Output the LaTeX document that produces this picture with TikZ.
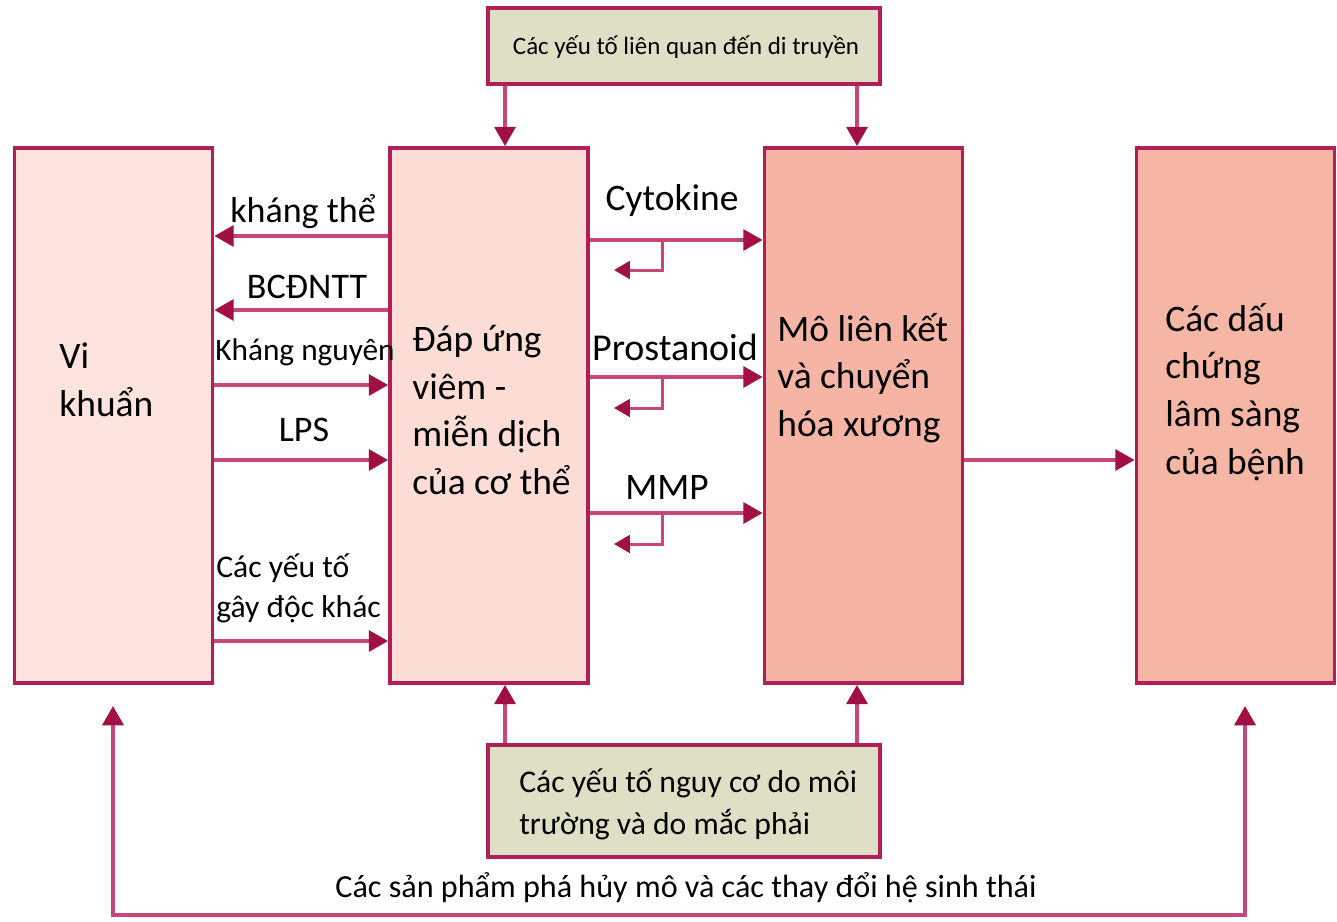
\documentclass[tikz,border=0pt]{standalone}
\usepackage{fontspec}
\setmainfont{Carlito}
\usetikzlibrary{arrows.meta}
\definecolor{bordc}{RGB}{176,32,88}
\definecolor{linec}{RGB}{200,70,120}
\definecolor{headc}{RGB}{160,16,66}
\definecolor{fvk}{RGB}{252,227,221}
\definecolor{fdap}{RGB}{252,221,214}
\definecolor{fmo}{RGB}{245,180,164}
\definecolor{fdau}{RGB}{246,182,165}
\definecolor{fkhaki}{RGB}{222,223,197}
\tikzset{
  bigbox/.style={draw=bordc, line width=2.2pt, minimum width=3.96cm, minimum height=10.7cm, inner sep=0pt},
  factbox/.style={draw=bordc, line width=2.6pt, fill=fkhaki, minimum width=7.84cm, inner sep=0pt},
  conn/.style={draw=linec, line width=1.9pt, -{Triangle[length=11pt,width=12pt,fill=headc,color=headc]}},
  fb/.style={draw=linec, line width=1.7pt, -{Triangle[length=9pt,width=10pt,fill=headc,color=headc]}},
  boxtxt/.style={anchor=west, align=left, inner sep=0pt, font=\fontsize{21.3pt}{27.2pt}\selectfont},
  lbl/.style={inner sep=0pt, font=\fontsize{20.5pt}{24pt}\selectfont},
}
\begin{document}
\begin{tikzpicture}[x=0.02cm,y=-0.02cm]
\useasboundingbox (0,0) rectangle (1337,921);
% main boxes
\node[bigbox, fill=fvk]  (vk)  at (113.5,415.5) {};
\node[bigbox, fill=fdap] (dap) at (489,415.5) {};
\node[bigbox, fill=fmo]  (mo)  at (863.5,415.5) {};
\node[bigbox, fill=fdau] (dau) at (1235.5,415.5) {};
% factor boxes
\node[factbox, minimum height=1.52cm] (gen) at (684,46) {};
\node[factbox, minimum height=2.24cm] (env) at (684,801) {};
% box texts
\node[boxtxt] (tvk) at (59,380) {Vi\\khuẩn};
\node[boxtxt] (tdap) at (412,410) {Đáp ứng\\viêm -\\miễn dịch\\của cơ thể};
\node[boxtxt] (tmo) at (777,378) {Mô liên kết\\và chuyển\\hóa xương};
\node[boxtxt] (tdau) at (1165,392) {Các dấu\\chứng\\lâm sàng\\của bệnh};
\node[inner sep=0pt, font=\fontsize{14.2pt}{17pt}\selectfont] (tgen) at (686,47) {Các yếu tố liên quan đến di truyền};
\node[anchor=west, align=left, inner sep=0pt, font=\fontsize{18pt}{23.8pt}\selectfont] (tenv) at (519,804) {Các yếu tố nguy cơ do môi\\trường và do mắc phải};
% genetic arrows
\draw[conn] (gen.south -| 505,0) -- (dap.north -| 505,0);
\draw[conn] (gen.south -| 857,0) -- (mo.north -| 857,0);
% environment arrows
\draw[conn] (env.north -| 505,0) -- (dap.south -| 505,0);
\draw[conn] (env.north -| 857,0) -- (mo.south -| 857,0);
% left arrows
\draw[conn] (dap.west |- 0,236) -- (vk.east |- 0,236);
\draw[conn] (dap.west |- 0,310) -- (vk.east |- 0,310);
\draw[conn] (vk.east |- 0,385) -- (dap.west |- 0,385);
\draw[conn] (vk.east |- 0,460) -- (dap.west |- 0,460);
\draw[conn] (vk.east |- 0,641) -- (dap.west |- 0,641);
\node[lbl] (l1) at (303,212) {kháng thể};
\node[lbl] (l2) at (307,287) {BCĐNTT};
\node[lbl, font=\fontsize{17.8pt}{20pt}\selectfont] (l3) at (305,352) {Kháng nguyên};
\node[lbl] (l4) at (304,430) {LPS};
\node[anchor=west, align=left, inner sep=0pt, font=\fontsize{18pt}{22.7pt}\selectfont] (l5) at (216,588) {Các yếu tố\\gây độc khác};
% middle arrows
\draw[conn] (dap.east |- 0,240) -- (mo.west |- 0,240);
\draw[conn] (dap.east |- 0,377) -- (mo.west |- 0,377);
\draw[conn] (dap.east |- 0,513) -- (mo.west |- 0,513);
\node[lbl, font=\fontsize{21.3pt}{24pt}\selectfont] (m1) at (672,201) {Cytokine};
\node[lbl, font=\fontsize{21.6pt}{24pt}\selectfont] (m2) at (675,347) {Prostanoid};
\node[lbl, font=\fontsize{21.3pt}{24pt}\selectfont] (m3) at (667,487) {MMP};
% feedback arrows
\coordinate (f1a) at (662,240); \coordinate (f1b) at (614,270);
\coordinate (f2a) at (662,377); \coordinate (f2b) at (614,408);
\coordinate (f3a) at (662,513); \coordinate (f3b) at (614,544);
\draw[fb] (f1a) |- (f1b);
\draw[fb] (f2a) |- (f2b);
\draw[fb] (f3a) |- (f3b);
% right arrow
\draw[conn] (mo.east |- 0,460) -- (dau.west |- 0,460);
% bottom loop
\coordinate (bl) at (113,706); \coordinate (br) at (1245,706);
\coordinate (bc) at (1245,915);
\draw[draw=linec, line width=1.9pt, {Triangle[length=11pt,width=12pt,fill=headc,color=headc]}-{Triangle[length=11pt,width=12pt,fill=headc,color=headc]}] (bl) |- (bc) -- (br);
\node[inner sep=0pt, font=\fontsize{18.3pt}{22pt}\selectfont] (tb) at (686,888) {Các sản phẩm phá hủy mô và các thay đổi hệ sinh thái};
\end{tikzpicture}
\end{document}
